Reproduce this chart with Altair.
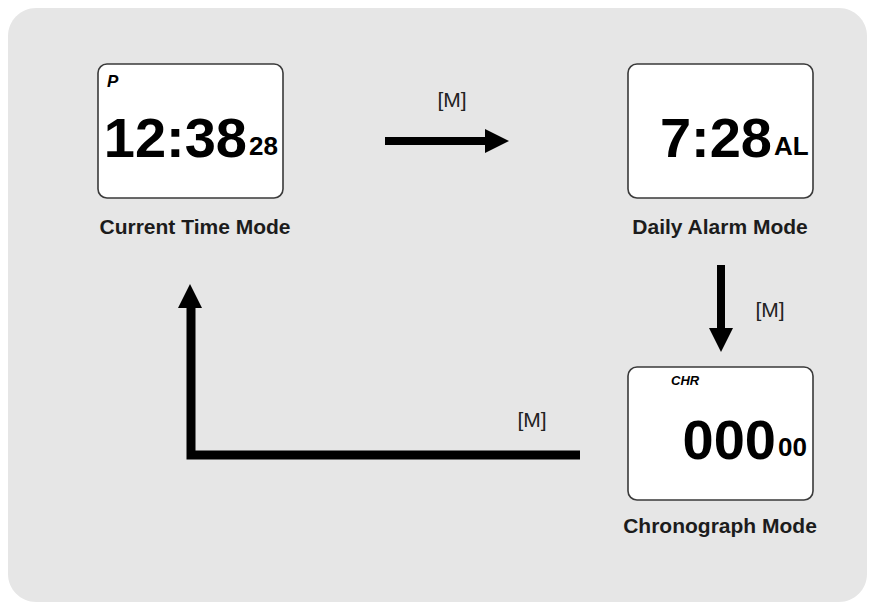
import altair as alt
import pandas as pd

# ---- diagram content (screen-pixel layout of the reference) ----
mode_labels = ["Current Time Mode", "Daily Alarm Mode", "Chronograph Mode"]
label_x = [195, 720, 720]
label_y = [228, 228, 527]

box_left = [98, 628, 628]
box_right = [283, 813, 813]
box_top = [64, 64, 367]
box_bottom = [198, 198, 500]

main_digits = ["12:38", "7:28", "000"]
main_right = [247, 772, 776]
main_y = [140, 140, 442]

small_digits = ["28", "AL", "00"]
small_left = [249, 774, 778]
small_y = [147, 147, 448]

indicators = ["P", "CHR"]
indicator_x = [107, 671]
indicator_y = [82, 381]
indicator_size = [17, 13]

button_text = ["[M]", "[M]", "[M]"]
button_x = [452, 770, 532]
button_y = [101, 311, 421]

# arrows: straight shafts
shaft_x1 = [385, 721]
shaft_x2 = [487, 721]
shaft_y1 = [141, 265]
shaft_y2 = [141, 330]
# L-shaped return arrow path
return_x = [580, 191, 191]
return_y = [455, 455, 306]
return_order = [0, 1, 2]
# arrow heads
head_x = [497, 721, 190]
head_y = [141, 340, 296]
head_shape = ["M-1,-1L1,0L-1,1Z", "M-1,-1L1,-1L0,1Z", "M-1,1L0,-1L1,1Z"]

W, H = 859, 594
xs = alt.Scale(domain=[8, 867], nice=False, zero=False)
ys = alt.Scale(domain=[8, 602], nice=False, zero=False, reverse=True)


def X(f):
    return alt.X(f, type="quantitative", scale=xs, axis=None)


def Y(f):
    return alt.Y(f, type="quantitative", scale=ys, axis=None)


bg_df = pd.DataFrame({"x0": [8], "x1": [867], "y0": [8], "y1": [602]})
background = alt.Chart(bg_df).mark_rect(cornerRadius=28, color="#e6e6e6").encode(
    x=X("x0"), x2="x1", y=Y("y0"), y2="y1"
)

box_df = pd.DataFrame({"x0": box_left, "x1": box_right, "y0": box_top, "y1": box_bottom})
boxes = alt.Chart(box_df).mark_rect(
    cornerRadius=9, fill="white", stroke="#3a3a3a", strokeWidth=1.6
).encode(x=X("x0"), x2="x1", y=Y("y0"), y2="y1")

label_df = pd.DataFrame({"t": mode_labels, "x": label_x, "y": label_y})
labels = alt.Chart(label_df).mark_text(
    font="Liberation Sans", fontSize=21, fontWeight="bold", color="#1c1c1c",
    align="center", baseline="middle"
).encode(x=X("x"), y=Y("y"), text="t:N")

main_df = pd.DataFrame({"t": main_digits, "x": main_right, "y": main_y})
mains = alt.Chart(main_df).mark_text(
    font="Liberation Sans", fontSize=56, fontWeight="bold", color="black",
    align="right", baseline="middle"
).encode(x=X("x"), y=Y("y"), text="t:N")

small_df = pd.DataFrame({"t": small_digits, "x": small_left, "y": small_y})
smalls = alt.Chart(small_df).mark_text(
    font="Liberation Sans", fontSize=26, fontWeight="bold", color="black",
    align="left", baseline="middle"
).encode(x=X("x"), y=Y("y"), text="t:N")

ind_df = pd.DataFrame({"t": indicators, "x": indicator_x, "y": indicator_y, "fs": indicator_size})
inds = alt.Chart(ind_df).mark_text(
    font="Liberation Sans", fontWeight="bold", fontStyle="italic",
    color="black", align="left", baseline="middle"
).encode(x=X("x"), y=Y("y"), text="t:N", size=alt.Size("fs:Q", scale=None, legend=None))

btn_df = pd.DataFrame({"t": button_text, "x": button_x, "y": button_y})
buttons = alt.Chart(btn_df).mark_text(
    font="Liberation Sans", fontSize=21, color="#222222",
    align="center", baseline="middle"
).encode(x=X("x"), y=Y("y"), text="t:N")

shaft_df = pd.DataFrame({"x1": shaft_x1, "x2": shaft_x2, "y1": shaft_y1, "y2": shaft_y2})
shafts = alt.Chart(shaft_df).mark_rule(color="black", strokeWidth=8, strokeCap="butt").encode(
    x=X("x1"), x2="x2", y=Y("y1"), y2="y2"
)

ret_df = pd.DataFrame({"x": return_x, "y": return_y, "o": return_order})
ret = alt.Chart(ret_df).mark_line(
    color="black", strokeWidth=9, strokeCap="butt", strokeJoin="miter"
).encode(x=X("x"), y=Y("y"), order="o:Q")

head_df = pd.DataFrame({"x": head_x, "y": head_y, "s": head_shape})
heads = alt.Chart(head_df).mark_point(
    filled=True, color="black", opacity=1, size=576, strokeWidth=0
).encode(x=X("x"), y=Y("y"), shape=alt.Shape("s:N", scale=None))

chart = alt.layer(
    background, boxes, shafts, ret, heads, labels, mains, smalls, inds, buttons
).properties(
    width=W, height=H, autosize=alt.AutoSizeParams(type="none"), padding=0,
    background="white"
).configure_view(stroke=None)

chart.save("out.html", embed_options={"renderer": "svg", "actions": False})
